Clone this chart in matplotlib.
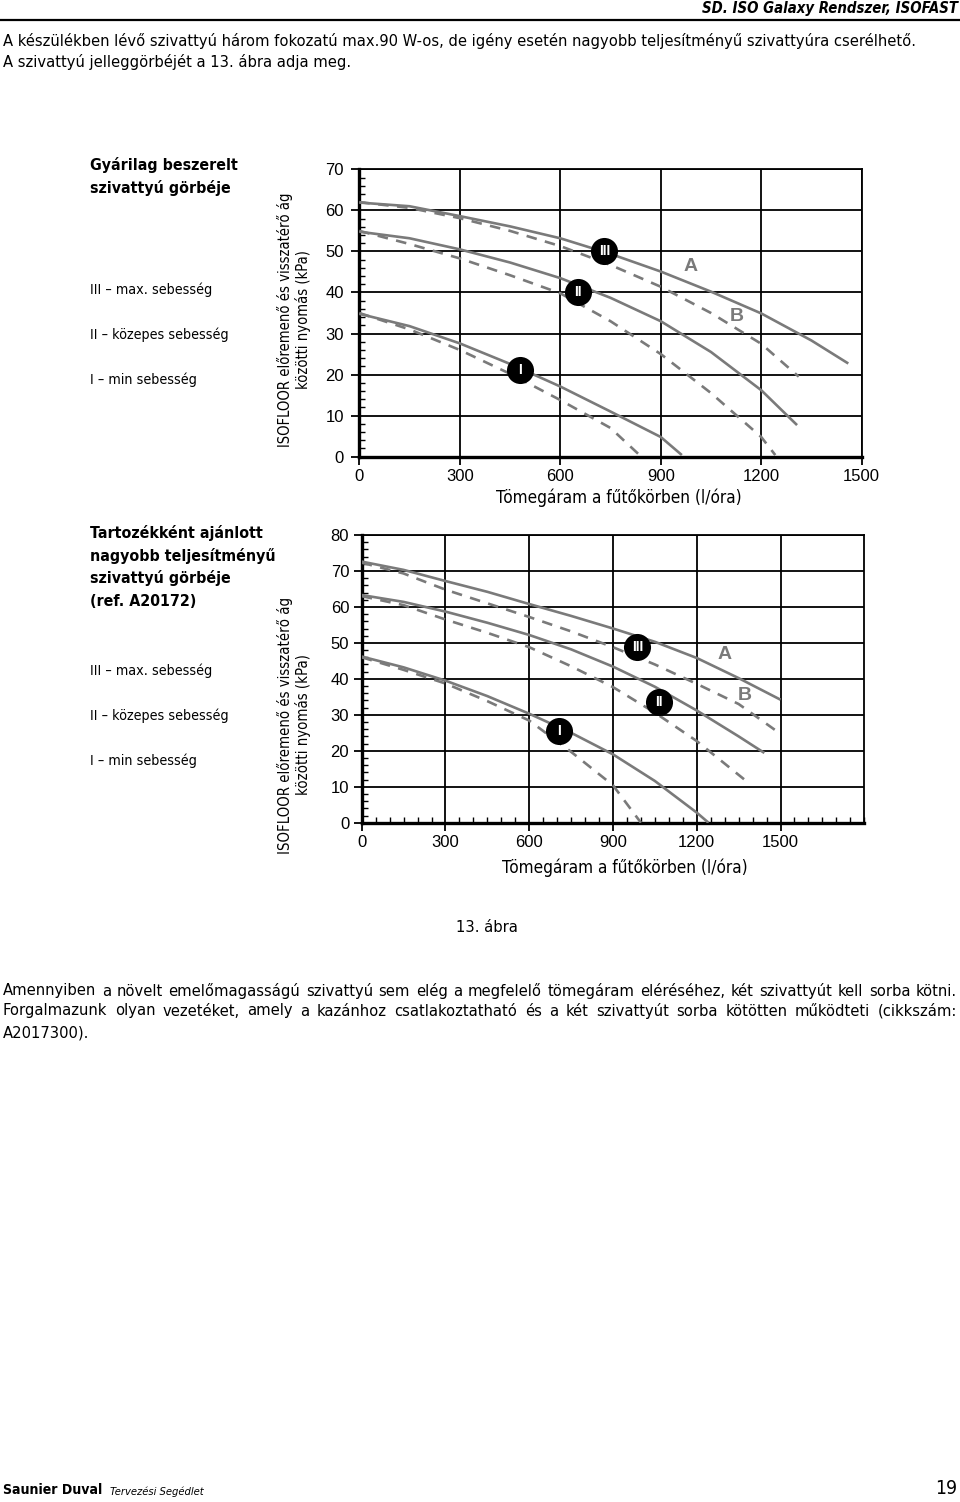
import matplotlib
matplotlib.use("Agg")
import matplotlib.pyplot as plt
from matplotlib.ticker import MultipleLocator
from matplotlib import font_manager

W, H = 960, 1502
CHART_FONT = ["Liberation Sans", "DejaVu Sans"]
GRAY = "#7a7a7a"

# keskeny betűtípus, ha van
have_cond = any(f.name == "DejaVu Sans" and f.stretch == "condensed"
                for f in font_manager.fontManager.ttflist)
PAGE_FONT = ["DejaVu Sans"]
PAGE_STRETCH = "condensed" if have_cond else "normal"

# --- adatok: gyárilag beszerelt szivattyú (felső ábra) ---
top_x = {
    "III_A": [0, 150, 300, 450, 600, 750, 900, 1050, 1200, 1350, 1460],
    "III_B": [0, 150, 300, 450, 600, 750, 900, 1050, 1200, 1312],
    "II_A": [0, 150, 300, 450, 600, 750, 900, 1050, 1200, 1307],
    "II_B": [0, 150, 300, 450, 600, 750, 900, 1050, 1200, 1242],
    "I_A": [0, 150, 300, 450, 600, 750, 900, 963],
    "I_B": [0, 150, 300, 450, 600, 750, 838],
}
top_y = {
    "III_A": [61.9, 61.0, 58.6, 56.1, 53.2, 49.4, 45.1, 40.2, 34.9, 28.3, 22.7],
    "III_B": [62.0, 60.6, 58.1, 55.0, 51.3, 46.7, 41.4, 35.0, 27.5, 19.5],
    "II_A": [54.8, 53.2, 50.5, 47.3, 43.5, 38.7, 33.0, 25.5, 16.2, 7.7],
    "II_B": [55.0, 51.8, 48.3, 44.2, 39.8, 33.0, 25.0, 15.5, 4.8, 0.4],
    "I_A": [34.8, 31.8, 27.6, 22.6, 17.1, 11.0, 4.8, 0.4],
    "I_B": [35.0, 31.0, 26.0, 20.2, 13.8, 7.0, 0.3],
}
top_marks = {"III": (732, 50.0), "II": (652, 40.0), "I": (480, 21.1)}
top_ab = {"A": (988, 46.3), "B": (1127, 34.1)}

# --- adatok: nagyobb teljesítményű szivattyú (alsó ábra) ---
bot_x = {
    "III_A": [0, 150, 300, 450, 600, 750, 900, 1050, 1200, 1350, 1500],
    "III_B": [0, 150, 300, 450, 600, 750, 900, 1050, 1200, 1350, 1500],
    "II_A": [0, 150, 300, 450, 600, 750, 900, 1050, 1200, 1350, 1442],
    "II_B": [0, 150, 300, 450, 600, 750, 900, 1050, 1200, 1377],
    "I_A": [0, 150, 300, 450, 600, 750, 900, 1050, 1200, 1242],
    "I_B": [0, 150, 300, 450, 600, 750, 900, 1000],
}
bot_y = {
    "III_A": [72.6, 70.3, 67.2, 64.2, 60.8, 57.5, 54.0, 50.3, 45.8, 40.2, 34.2],
    "III_B": [72.3, 69.3, 64.8, 61.0, 57.2, 53.2, 48.8, 44.0, 38.6, 33.0, 24.7],
    "II_A": [63.3, 61.4, 58.7, 55.6, 52.2, 48.2, 43.4, 37.8, 31.2, 24.0, 19.4],
    "II_B": [63.0, 60.5, 56.5, 52.8, 48.8, 43.5, 37.7, 30.6, 22.7, 11.6],
    "I_A": [46.2, 43.2, 39.5, 35.2, 30.3, 25.0, 19.0, 11.6, 2.8, 0.0],
    "I_B": [46.0, 42.5, 38.7, 33.8, 28.4, 19.7, 10.4, 0.0],
}
bot_marks = {"III": (987, 48.8), "II": (1063, 33.5), "I": (705, 25.4)}
bot_ab = {"A": (1299, 46.9), "B": (1372, 35.4)}

fig = plt.figure(figsize=(W / 100, H / 100), dpi=100)
fig.patch.set_facecolor("white")
renderer = fig.canvas.get_renderer()


def put(x, y, s, width=None, size=10, vertical=False, **kw):
    # szöveg pixelkoordinátában, opcionálisan szélességre igazítva
    kw.setdefault("family", PAGE_FONT)
    kw.setdefault("fontstretch", PAGE_STRETCH)
    kw.setdefault("va", "center")
    t = fig.text(x / W, 1 - y / H, s, fontsize=size, **kw)
    if width:
        bb = t.get_window_extent(renderer)
        span = bb.height if vertical else bb.width
        t.set_fontsize(size * width / span)
    return t


def justify(x0, x1, y, s, size):
    words = s.split()
    texts = [fig.text(0, 1 - y / H, w, fontsize=size, va="center", family=PAGE_FONT,
                      fontstretch=PAGE_STRETCH) for w in words]
    widths = [t.get_window_extent(renderer).width for t in texts]
    gap = (x1 - x0 - sum(widths)) / (len(words) - 1)
    x = x0
    for t, wd in zip(texts, widths):
        t.set_x(x / W)
        x += wd + gap


def chart(ax, xs, ys, marks, ab, ymax, xmax, ypad, xminor):
    for key in xs:
        ls = "-" if key.endswith("A") else (0, (4, 3.2))
        ax.plot(xs[key], ys[key], color=GRAY, lw=1.9, linestyle=ls, zorder=3,
                solid_capstyle="butt", dash_capstyle="butt", solid_joinstyle="round")
    for lab, (mx, my) in marks.items():
        ax.scatter([mx], [my], s=380, color="black", zorder=5, linewidths=0)
        ax.text(mx, my, lab, color="white", fontsize=10, fontweight="bold",
                ha="center", va="center", zorder=6, family=CHART_FONT)
    for lab, (mx, my) in ab.items():
        ax.text(mx, my, lab, color=GRAY, fontsize=14, fontweight="bold",
                ha="center", va="center", zorder=4, family=CHART_FONT)
    ax.set_xlim(0, xmax)
    ax.set_ylim(0, ymax)
    ax.set_xticks(range(0, 1501, 300))
    ax.set_yticks(range(0, ymax + 1, 10))
    ax.yaxis.set_minor_locator(MultipleLocator(2))
    if xminor:
        ax.xaxis.set_minor_locator(MultipleLocator(50))
    ax.grid(True, which="major", color="black", lw=1.3)
    ax.tick_params(which="major", direction="out", length=6, width=1.3, labelsize=12)
    ax.tick_params(axis="y", which="major", pad=ypad)
    ax.tick_params(axis="x", which="major", pad=3)
    ax.tick_params(which="minor", direction="in", length=4, width=1)
    for lbl in ax.get_xticklabels() + ax.get_yticklabels():
        lbl.set_family(CHART_FONT)
    for side in ("left", "bottom"):
        ax.spines[side].set_linewidth(2.4)
    for side in ("top", "right"):
        ax.spines[side].set_linewidth(1.3)


ax1 = fig.add_axes([359.3 / W, 1 - 456.7 / H, (861.7 - 359.3) / W, (456.7 - 169.3) / H])
chart(ax1, top_x, top_y, top_marks, top_ab, 70, 1500, 5, False)
ax2 = fig.add_axes([361.7 / W, 1 - 822.7 / H, (864.3 - 361.7) / W, (822.7 - 535) / H])
chart(ax2, bot_x, bot_y, bot_marks, bot_ab, 80, 1800, 3, True)

# tengelyfeliratok
ylab = "ISOFLOOR előremenő és visszatérő ág\nközötti nyomás (kPa)"
put(294, 320, ylab, width=254, size=11, vertical=True, rotation=90, ha="center", ma="center")
put(294, 725, ylab, width=256, size=11, vertical=True, rotation=90, ha="center", ma="center")
put(619, 498, "Tömegáram a fűtőkörben (l/óra)", width=246, size=11, ha="center")
put(625, 868, "Tömegáram a fűtőkörben (l/óra)", width=246, size=11, ha="center")

# fejléc
put(958, 8, "SD. ISO Galaxy Rendszer, ISOFAST", width=255, size=11, ha="right",
    fontweight="bold", style="italic")
fig.add_artist(plt.Line2D([0, 1], [1 - 20 / H, 1 - 20 / H], color="black", lw=1.6))
t = put(3, 41, "A készülékben lévő szivattyú három fokozatú max.90 W-os, de igény esetén "
        "nagyobb teljesítményű szivattyúra cserélhető.", width=912, size=10, ha="left")
body = t.get_fontsize()
put(3, 62, "A szivattyú jelleggörbéjét a 13. ábra adja meg.", size=body, ha="left")

# bal oldali magyarázatok
h = put(90, 165, "Gyárilag beszerelt", width=147, size=12, ha="left", fontweight="bold")
put(90, 188, "szivattyú görbéje", size=h.get_fontsize(), ha="left", fontweight="bold")
s = put(90, 290, "III – max. sebesség", width=122, size=10, ha="left")
put(90, 335, "II – közepes sebesség", size=s.get_fontsize(), ha="left")
put(90, 380, "I – min sebesség", size=s.get_fontsize(), ha="left")

h2 = put(90, 556, "nagyobb teljesítményű", width=185, size=12, ha="left", fontweight="bold")
put(90, 533, "Tartozékként ajánlott", size=h2.get_fontsize(), ha="left", fontweight="bold")
put(90, 578, "szivattyú görbéje", size=h2.get_fontsize(), ha="left", fontweight="bold")
put(90, 601, "(ref. A20172)", size=h2.get_fontsize(), ha="left", fontweight="bold")
put(90, 671, "III – max. sebesség", size=s.get_fontsize(), ha="left")
put(90, 716, "II – közepes sebesség", size=s.get_fontsize(), ha="left")
put(90, 761, "I – min sebesség", size=s.get_fontsize(), ha="left")

put(487, 928, "13. ábra", size=body, ha="center")

# alsó bekezdés
justify(3, 957, 991, "Amennyiben a növelt emelőmagasságú szivattyú sem elég a megfelelő "
        "tömegáram eléréséhez, két szivattyút kell sorba kötni.", body)
justify(3, 957, 1011, "Forgalmazunk olyan vezetéket, amely a kazánhoz csatlakoztatható "
        "és a két szivattyút sorba kötötten működteti (cikkszám:", body)
put(3, 1033, "A2017300).", size=body, ha="left")

# lábléc
put(3, 1490, "Saunier Duval", width=99, size=11, ha="left", fontweight="bold")
put(110, 1492, "Tervezési Segédlet", width=94, size=8, ha="left", style="italic")
put(957, 1488, "19", width=22, size=14, ha="right")

fig.savefig("out.png", dpi=100, facecolor="white")
